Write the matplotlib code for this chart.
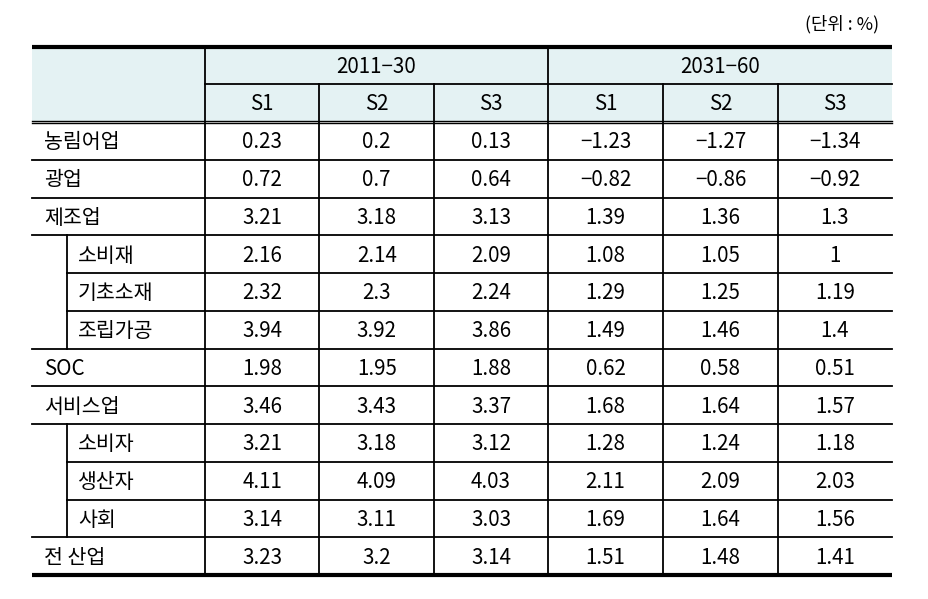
import matplotlib
matplotlib.use("Agg")
import matplotlib.pyplot as plt
from matplotlib.patches import Rectangle

plt.rcParams['font.family'] = ['Noto Sans CJK KR', 'DejaVu Sans']

# table content
periods = ['2011−30', '2031−60']
scenarios = ['S1', 'S2', 'S3']
industries = ['농림어업', '광업', '제조업', '소비재', '기초소재', '조립가공',
              'SOC', '서비스업', '소비자', '생산자', '사회', '전 산업']
is_sub = [False, False, False, True, True, True,
          False, False, True, True, True, False]
vals_2011_30 = [
    ['0.23', '0.2', '0.13'],
    ['0.72', '0.7', '0.64'],
    ['3.21', '3.18', '3.13'],
    ['2.16', '2.14', '2.09'],
    ['2.32', '2.3', '2.24'],
    ['3.94', '3.92', '3.86'],
    ['1.98', '1.95', '1.88'],
    ['3.46', '3.43', '3.37'],
    ['3.21', '3.18', '3.12'],
    ['4.11', '4.09', '4.03'],
    ['3.14', '3.11', '3.03'],
    ['3.23', '3.2', '3.14'],
]
vals_2031_60 = [
    ['−1.23', '−1.27', '−1.34'],
    ['−0.82', '−0.86', '−0.92'],
    ['1.39', '1.36', '1.3'],
    ['1.08', '1.05', '1'],
    ['1.29', '1.25', '1.19'],
    ['1.49', '1.46', '1.4'],
    ['0.62', '0.58', '0.51'],
    ['1.68', '1.64', '1.57'],
    ['1.28', '1.24', '1.18'],
    ['2.11', '2.09', '2.03'],
    ['1.69', '1.64', '1.56'],
    ['1.51', '1.48', '1.41'],
]
unit_note = '(단위 : %)'


def main():
    W, H = 929, 599
    fig = plt.figure(figsize=(W / 100, H / 100), dpi=100)
    ax = fig.add_axes([0, 0, 1, 1])
    ax.set_xlim(0, W)
    ax.set_ylim(H, 0)
    ax.axis('off')

    # layout in pixels
    left, right = 32, 892
    xlabel_end = 205
    xsub = 67
    col_x = [205, 319.5, 434, 548, 663, 778, 892]
    top = 47
    h1 = 84
    h2 = 122
    row_h = (575 - h2) / len(industries)
    fs = 14.8
    lw = 1.3
    hdr_color = '#e4f2f3'

    ax.add_patch(Rectangle((left, top), right - left, h2 - top,
                           facecolor=hdr_color, edgecolor='none', zorder=0))

    # header text
    for p, name in enumerate(periods):
        xc = (col_x[3 * p] + col_x[3 * p + 3]) / 2
        ax.text(xc, (top + h1) / 2 + 1.5, name, ha='center', va='center', fontsize=fs)
        for s, sname in enumerate(scenarios):
            xc = (col_x[3 * p + s] + col_x[3 * p + s + 1]) / 2
            ax.text(xc, (h1 + h2) / 2 + 1.5, sname, ha='center', va='center', fontsize=fs)

    ax.text(879, 24, unit_note, ha='right', va='center', fontsize=12.8)

    # body
    for i, name in enumerate(industries):
        y0 = h2 + i * row_h
        yc = y0 + row_h / 2 + 1.5
        tx = 78 if is_sub[i] else 44
        ax.text(tx, yc, name, ha='left', va='center', fontsize=fs)
        row = vals_2011_30[i] + vals_2031_60[i]
        for j, v in enumerate(row):
            xc = (col_x[j] + col_x[j + 1]) / 2
            ax.text(xc, yc, v, ha='center', va='center', fontsize=fs)
        # horizontal line under row
        if i < len(industries) - 1:
            x0 = xsub if (is_sub[i + 1] and is_sub[i]) else left
            ax.plot([x0, right], [y0 + row_h] * 2, color='black', lw=lw)

    # sub-group vertical lines
    for i in range(len(industries)):
        if is_sub[i]:
            y0 = h2 + i * row_h
            ax.plot([xsub, xsub], [y0, y0 + row_h], color='black', lw=lw)

    # header lines
    ax.plot([xlabel_end, right], [h1, h1], color='black', lw=lw)
    ax.plot([left, right], [h2 - 1.2, h2 - 1.2], color='black', lw=1.0)
    ax.plot([left, right], [h2 + 1.2, h2 + 1.2], color='black', lw=1.0)

    # vertical lines
    ax.plot([xlabel_end, xlabel_end], [top, 575], color='black', lw=lw)
    ax.plot([col_x[3], col_x[3]], [top, 575], color='black', lw=lw)
    for j in [1, 2, 4, 5]:
        ax.plot([col_x[j], col_x[j]], [h1, 575], color='black', lw=lw)

    # thick top and bottom rules
    ax.plot([left, right], [top, top], color='black', lw=3, solid_capstyle='butt')
    ax.plot([left, right], [575, 575], color='black', lw=3, solid_capstyle='butt')

    fig.savefig('out.png', dpi=100)


if __name__ == '__main__':
    main()
